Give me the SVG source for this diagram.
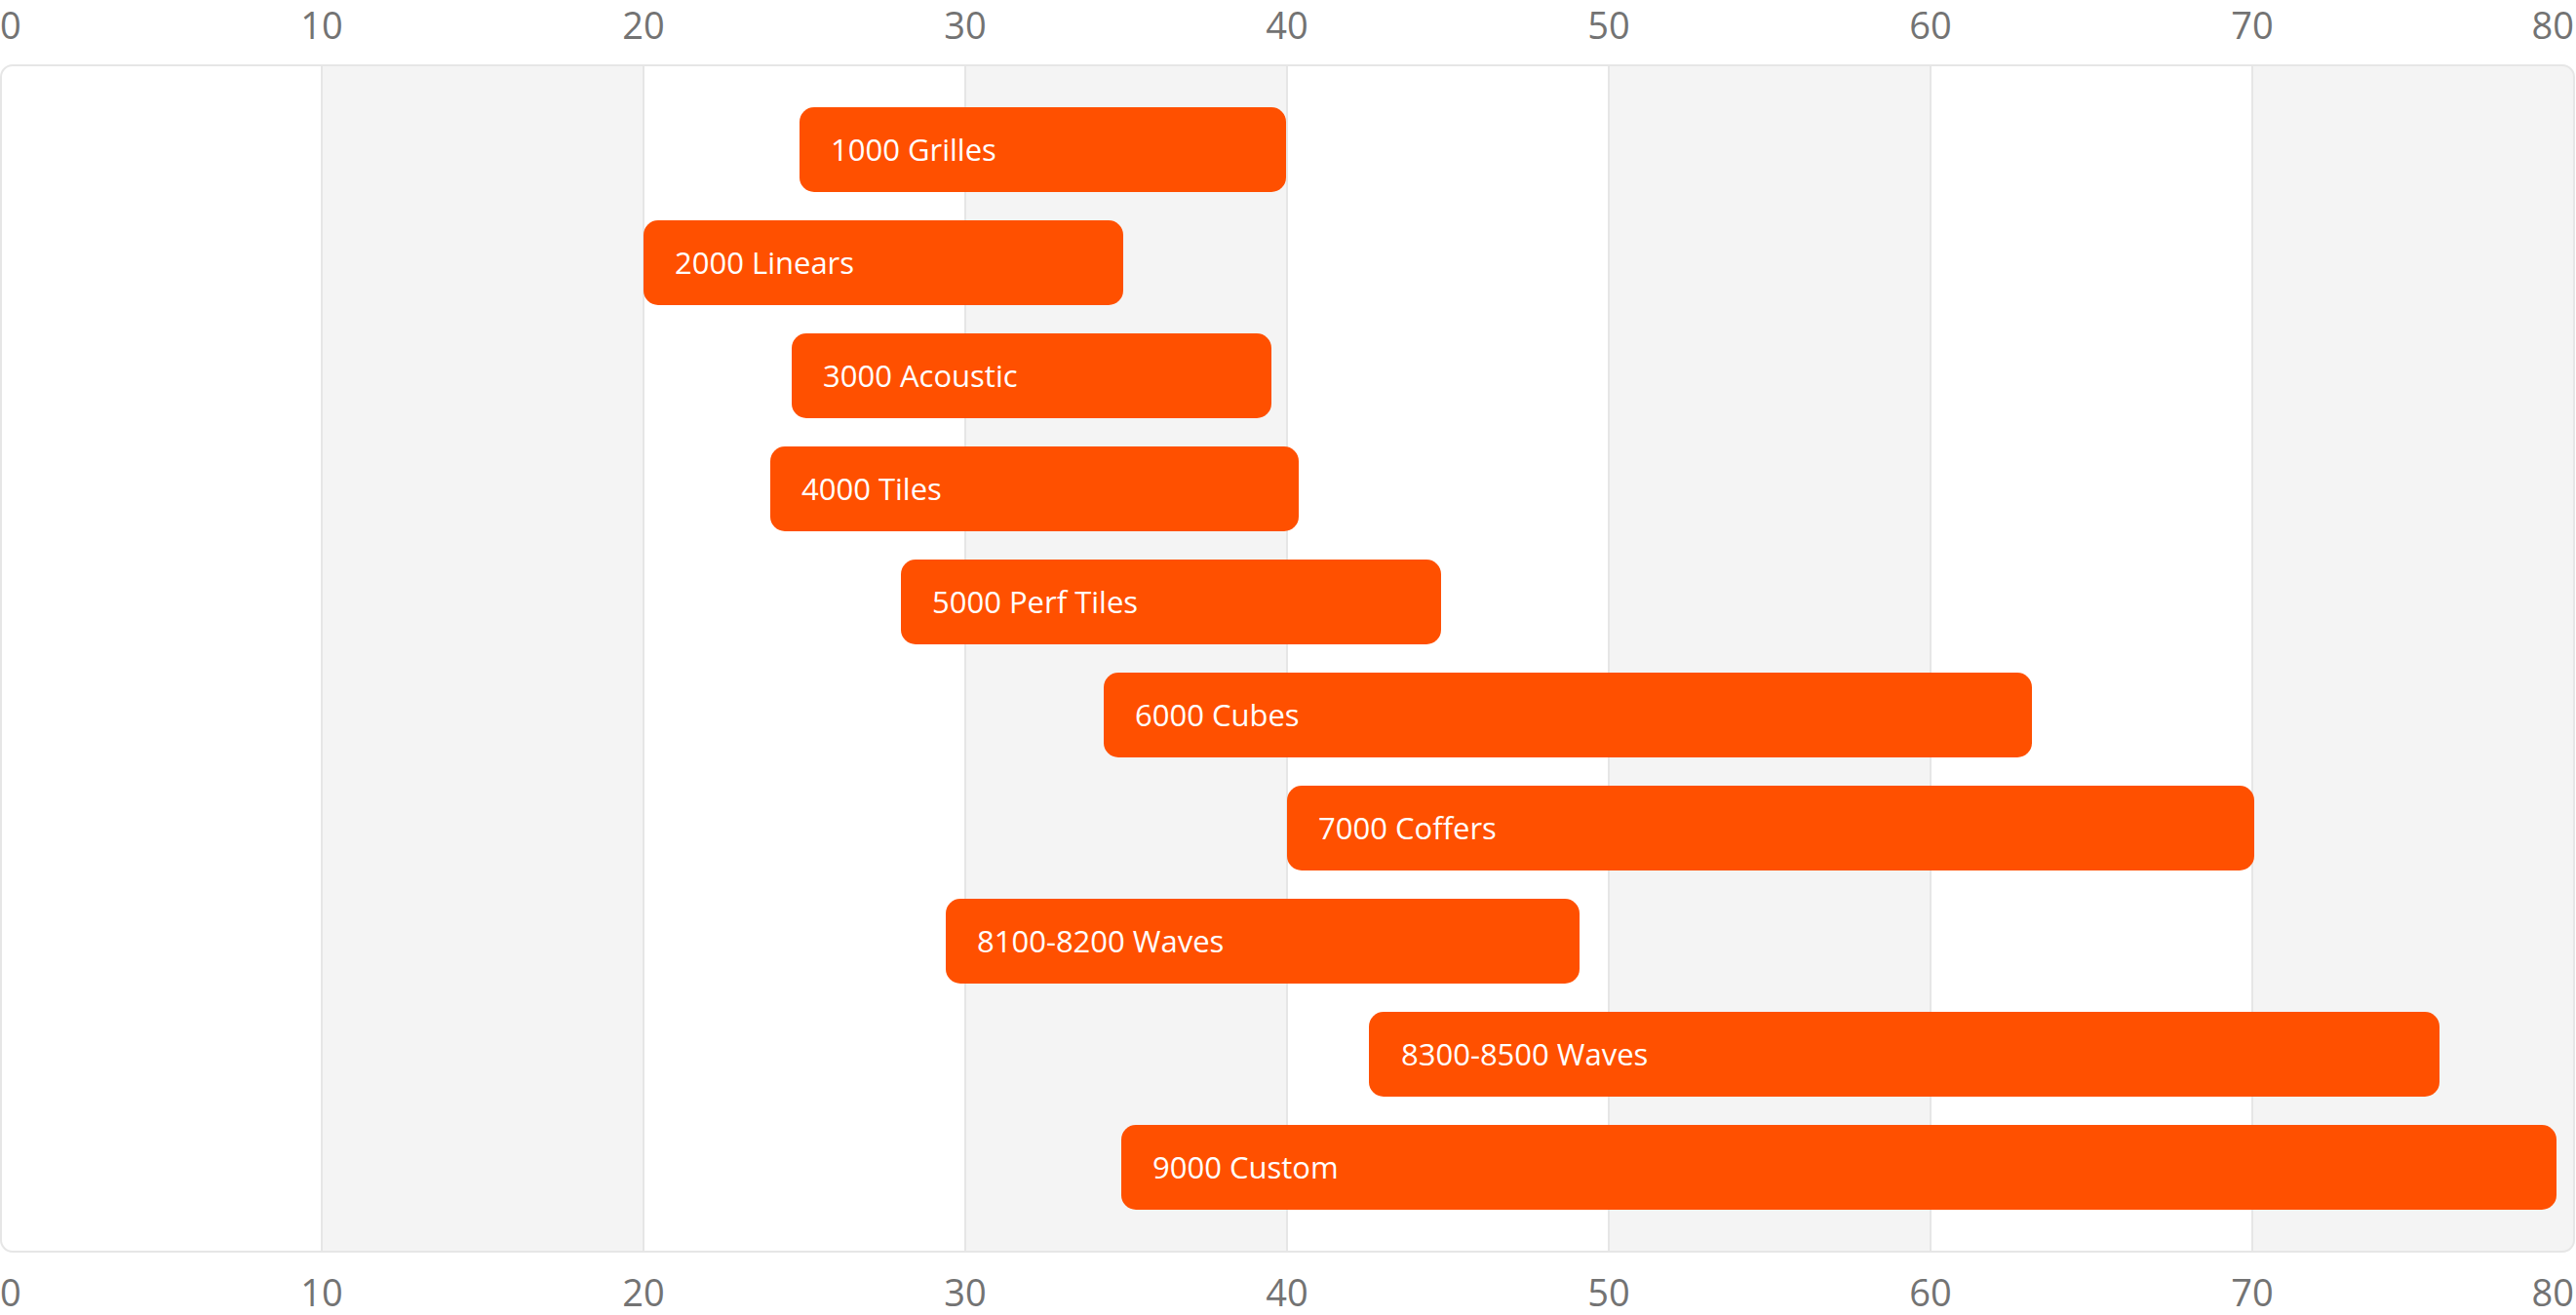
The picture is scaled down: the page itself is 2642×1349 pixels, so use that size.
<svg xmlns="http://www.w3.org/2000/svg" width="2642" height="1349" viewBox="0 0 2642 1349">
<style>
.ax{font-family:"Open Sans","Noto Sans","Liberation Sans",sans-serif;font-size:38px;fill:#737373}
.bar{fill:#ff5000}
.lbl{font-family:"Open Sans","Noto Sans","Liberation Sans",sans-serif;font-size:31px;fill:#ffffff}
.grid{stroke:#e6e6e6;stroke-width:2}
.band{fill:#f4f4f4}
</style>
<defs>
<clipPath id="panelClip"><rect x="1" y="67" width="2639" height="1217" rx="12"/></clipPath>
</defs>
<rect width="2642" height="1349" fill="#ffffff"/>
<g id="panel">
<rect x="1" y="67" width="2639" height="1217" rx="12" fill="#ffffff"/>
<g clip-path="url(#panelClip)">
<rect class="band" x="330" y="67" width="330" height="1217"/>
<rect class="band" x="990" y="67" width="330" height="1217"/>
<rect class="band" x="1650" y="67" width="330" height="1217"/>
<rect class="band" x="2310" y="67" width="330" height="1217"/>
<line class="grid" x1="330" y1="67" x2="330" y2="1284"/>
<line class="grid" x1="660" y1="67" x2="660" y2="1284"/>
<line class="grid" x1="990" y1="67" x2="990" y2="1284"/>
<line class="grid" x1="1320" y1="67" x2="1320" y2="1284"/>
<line class="grid" x1="1650" y1="67" x2="1650" y2="1284"/>
<line class="grid" x1="1980" y1="67" x2="1980" y2="1284"/>
<line class="grid" x1="2310" y1="67" x2="2310" y2="1284"/>
</g>
<rect x="1" y="67" width="2639" height="1217" rx="12" fill="none" stroke="#e6e6e6" stroke-width="2"/>
</g>
<g id="axis-top">
<text class="ax" x="0" y="40" text-anchor="start">0</text>
<text class="ax" x="330" y="40" text-anchor="middle">10</text>
<text class="ax" x="660" y="40" text-anchor="middle">20</text>
<text class="ax" x="990" y="40" text-anchor="middle">30</text>
<text class="ax" x="1320" y="40" text-anchor="middle">40</text>
<text class="ax" x="1650" y="40" text-anchor="middle">50</text>
<text class="ax" x="1980" y="40" text-anchor="middle">60</text>
<text class="ax" x="2310" y="40" text-anchor="middle">70</text>
<text class="ax" x="2640" y="40" text-anchor="end">80</text>
</g>
<g id="axis-bottom">
<text class="ax" x="0" y="1340" text-anchor="start">0</text>
<text class="ax" x="330" y="1340" text-anchor="middle">10</text>
<text class="ax" x="660" y="1340" text-anchor="middle">20</text>
<text class="ax" x="990" y="1340" text-anchor="middle">30</text>
<text class="ax" x="1320" y="1340" text-anchor="middle">40</text>
<text class="ax" x="1650" y="1340" text-anchor="middle">50</text>
<text class="ax" x="1980" y="1340" text-anchor="middle">60</text>
<text class="ax" x="2310" y="1340" text-anchor="middle">70</text>
<text class="ax" x="2640" y="1340" text-anchor="end">80</text>
</g>
<g id="bar-1000"><rect class="bar" x="820" y="110" width="499" height="87" rx="15"/><text class="lbl" x="852" y="165">1000 Grilles</text></g>
<g id="bar-2000"><rect class="bar" x="660" y="226" width="492" height="87" rx="15"/><text class="lbl" x="692" y="281">2000 Linears</text></g>
<g id="bar-3000"><rect class="bar" x="812" y="342" width="492" height="87" rx="15"/><text class="lbl" x="844" y="397">3000 Acoustic</text></g>
<g id="bar-4000"><rect class="bar" x="790" y="458" width="542" height="87" rx="15"/><text class="lbl" x="822" y="513">4000 Tiles</text></g>
<g id="bar-5000"><rect class="bar" x="924" y="574" width="554" height="87" rx="15"/><text class="lbl" x="956" y="629">5000 Perf Tiles</text></g>
<g id="bar-6000"><rect class="bar" x="1132" y="690" width="952" height="87" rx="15"/><text class="lbl" x="1164" y="745">6000 Cubes</text></g>
<g id="bar-7000"><rect class="bar" x="1320" y="806" width="992" height="87" rx="15"/><text class="lbl" x="1352" y="861">7000 Coffers</text></g>
<g id="bar-8100"><rect class="bar" x="970" y="922" width="650" height="87" rx="15"/><text class="lbl" x="1002" y="977">8100-8200 Waves</text></g>
<g id="bar-8300"><rect class="bar" x="1404" y="1038" width="1098" height="87" rx="15"/><text class="lbl" x="1437" y="1093">8300-8500 Waves</text></g>
<g id="bar-9000"><rect class="bar" x="1150" y="1154" width="1472" height="87" rx="15"/><text class="lbl" x="1182" y="1209">9000 Custom</text></g>
<g id="connectors"/>
</svg>
